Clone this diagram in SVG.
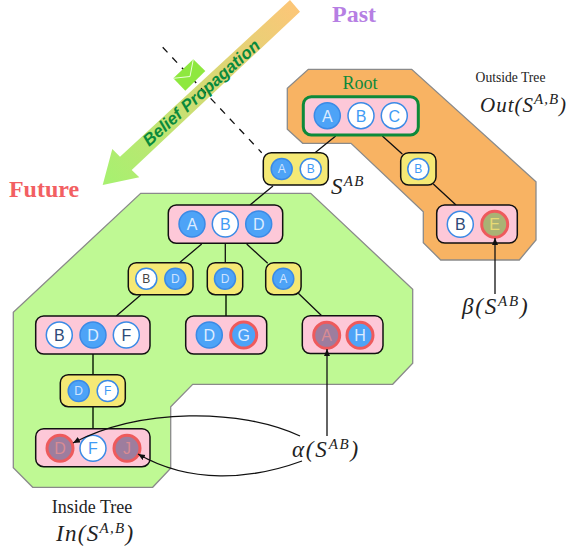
<svg xmlns="http://www.w3.org/2000/svg" width="573" height="550" viewBox="0 0 573 550">
<style>
.region{stroke:#8a8a8a;stroke-width:1.3}
.pink{fill:#fdc8d8;stroke:#111;stroke-width:1.5}
.yellow{fill:#f5e975;stroke:#111;stroke-width:1.5}
.edge{stroke:#111;stroke-width:1.3;fill:none}
.dark{stroke:#3c5a2c;stroke-width:2;fill:none}
.blue{fill:#4da3f7;stroke:#3b8ae6;stroke-width:1.5}
.white{fill:#fff;stroke:#3b8ae6;stroke-width:1.5}
.blueR{fill:#4da3f7;stroke:#ee5a5c;stroke-width:3}
.dim{fill:#9d7d9e;stroke:#ee5a5c;stroke-width:3}
.olive{fill:#a9b274;stroke:#ee5a5c;stroke-width:3}
text{font-family:"Liberation Sans",Arial,sans-serif;text-anchor:middle}
.l{font-size:16px;fill:#dcecff}
.s{font-size:12px;fill:#cfe4ff}
.lw{font-size:16px;fill:#3f9bf5}
.sw{font-size:12px;fill:#3f9bf5}
.ld{font-size:16px;fill:#2c4a78}
.sd{font-size:12px;fill:#444}
.ldim{font-size:16px;fill:#d98b93}
.serif{font-family:"Liberation Serif",serif;fill:#222}
.m{font-family:"Liberation Serif",serif;font-style:italic;fill:#222;font-size:23px;text-anchor:start;letter-spacing:1.3px}
.sup{font-size:15px}
</style>
<defs>
<linearGradient id="bp" gradientUnits="userSpaceOnUse" x1="295" y1="5" x2="110" y2="180">
<stop offset="0" stop-color="#fcc678"/><stop offset="1" stop-color="#a8f070"/>
</linearGradient>
<marker id="ah" markerWidth="8" markerHeight="8" refX="7" refY="3" orient="auto" markerUnits="userSpaceOnUse">
<path d="M0,0L7,3L0,6z" fill="#111"/>
</marker>
</defs>

<g id="outside-tree"><polygon class="region" fill="#f8b363" points="308.3,69.3 411.7,69.3 536,181.7 536,240 519.3,260 440.7,260 423.3,242.7 423.3,211.7 351,143.3 302.7,143.3 287.3,129.3 287.3,88.3"/></g>
<g id="inside-tree"><polygon class="region" fill="#bff994" points="140.7,193.3 310.7,193.3 412.7,289.3 412.7,363.3 392.7,384.3 192.7,384.3 170.7,406.7 170.7,468.3 152.7,487.3 32.7,487.3 13.3,467.7 13.3,312.3"/></g>

<g id="propagation-arrow">
<polygon fill="url(#bp)" points="290,0 300,11.7 131.7,170 139.3,177.3 102.7,185 112.3,149 120,156.7"/>
</g>

<g id="tree-connectors">
<path class="edge" stroke-dasharray="7 7" d="M162.7,47.3L261.7,152.7"/>
<path class="edge" d="M335.7,136L315,152.7M382.3,136L402.3,154M433.3,184L456,205M273,186L250,205M201.7,244L180,262.3M225.3,243V262.7M246.7,244L267.7,263.3M298.3,293.3L321.7,315.7M140.7,295L116.3,316"/>
<path class="dark" d="M226,295V316M93,354V375M93,407V429"/>
</g>

<g id="envelope">
<polygon fill="#8ee83f" points="193.3,59.3 205.3,71 185.3,90.7 173.3,78.3"/>
<path d="M173.3,78.3L190,76.5L193.3,59.3" fill="none" stroke="#eaffd8" stroke-width="1"/>
</g>
<text id="bp-label" transform="translate(149 147) rotate(-41.7)" x="0" y="0" style="text-anchor:start;font-weight:bold;font-style:italic;font-size:17px;fill:#0a8a3c">Belief Propagation</text>

<g id="node-root">
<rect x="303.3" y="96.7" width="115" height="38.3" rx="8" fill="#fdc8d8" stroke="#0d8a3a" stroke-width="3"/>
<circle class="blue" cx="327.3" cy="115.7" r="13"/><text class="l" x="327.3" y="121.5">A</text>
<circle class="white" cx="361" cy="115.7" r="13"/><text class="lw" x="361" y="121.5">B</text>
<circle class="white" cx="394.3" cy="115.7" r="13"/><text class="lw" x="394.3" y="121.5">C</text>
</g>
<g id="node-sab">
<rect class="yellow" x="263.3" y="152.7" width="65" height="32.3" rx="8"/>
<circle class="blue" cx="281.7" cy="169" r="10.5"/><text class="s" x="281.7" y="173.3">A</text>
<circle class="white" cx="310.7" cy="169" r="10.5"/><text class="sw" x="310.7" y="173.3">B</text>
</g>
<g id="node-b-right">
<rect class="yellow" x="400.7" y="152.7" width="35.3" height="32.3" rx="8"/>
<circle class="white" cx="418.3" cy="169" r="10.5"/><text class="sw" x="418.3" y="173.3">B</text>
</g>
<g id="node-be">
<rect class="pink" x="436.7" y="205" width="80.6" height="38" rx="8"/>
<circle class="white" cx="460.3" cy="224.3" r="13"/><text class="ld" x="460.3" y="230">B</text>
<circle class="olive" cx="494.7" cy="224.3" r="13"/><text class="l" style="fill:#e6da74" x="494.7" y="230">E</text>
</g>
<g id="node-abd">
<rect class="pink" x="168.3" y="205" width="114.4" height="38.3" rx="8"/>
<circle class="blue" cx="192" cy="224" r="13"/><text class="l" x="192" y="229.8">A</text>
<circle class="white" cx="225.3" cy="224" r="13"/><text class="lw" x="225.3" y="229.8">B</text>
<circle class="blue" cx="258.7" cy="224" r="13"/><text class="l" x="258.7" y="229.8">D</text>
</g>
<g id="node-bd">
<rect class="yellow" x="128.3" y="262.7" width="64.7" height="32" rx="8"/>
<circle class="white" cx="146.3" cy="278.7" r="10.5"/><text class="sd" x="146.3" y="283">B</text>
<circle class="blue" cx="175.3" cy="278.7" r="10.5"/><text class="s" x="175.3" y="283">D</text>
</g>
<g id="node-d">
<rect class="yellow" x="207.3" y="262.7" width="35.4" height="32" rx="8"/>
<circle class="blue" cx="225" cy="278.7" r="10.5"/><text class="s" x="225" y="283">D</text>
</g>
<g id="node-a">
<rect class="yellow" x="265.7" y="262.7" width="35.4" height="32" rx="8"/>
<circle class="blue" cx="283.3" cy="278.7" r="10.5"/><text class="s" x="283.3" y="283">A</text>
</g>
<g id="node-bdf">
<rect class="pink" x="35.7" y="316" width="114.3" height="38" rx="8"/>
<circle class="white" cx="59.3" cy="335" r="13"/><text class="ld" x="59.3" y="340.8">B</text>
<circle class="blue" cx="93" cy="335" r="13"/><text class="l" x="93" y="340.8">D</text>
<circle class="white" cx="126.3" cy="335" r="13"/><text class="ld" x="126.3" y="340.8">F</text>
</g>
<g id="node-dg">
<rect class="pink" x="185.7" y="316" width="81" height="38" rx="8"/>
<circle class="blue" cx="209.3" cy="335" r="13"/><text class="l" x="209.3" y="340.8">D</text>
<circle class="blueR" cx="243.7" cy="335" r="13"/><text class="l" x="243.7" y="340.8">G</text>
</g>
<g id="node-ah">
<rect class="pink" x="302.3" y="315.7" width="80.7" height="37.8" rx="8"/>
<circle class="dim" cx="326.7" cy="335.3" r="13"/><text class="ldim" x="326.7" y="341">A</text>
<circle class="blueR" cx="360" cy="335.3" r="13"/><text class="l" x="360" y="341">H</text>
</g>
<g id="node-df">
<rect class="yellow" x="60.3" y="374.7" width="65" height="32" rx="8"/>
<circle class="blue" cx="78.7" cy="391" r="10.5"/><text class="s" x="78.7" y="395.3">D</text>
<circle class="white" cx="107.7" cy="391" r="10.5"/><text class="sw" x="107.7" y="395.3">F</text>
</g>
<g id="node-dfj">
<rect class="pink" x="35.7" y="428.7" width="114.3" height="38" rx="8"/>
<circle class="dim" cx="60" cy="448.3" r="13"/><text class="ldim" x="60" y="454">D</text>
<circle class="white" cx="93" cy="448.3" r="13"/><text class="lw" x="93" y="454">F</text>
<circle class="dim" cx="127" cy="448.3" r="13"/><text class="ldim" x="127" y="454">J</text>
</g>

<g id="annotation-connectors">
<path class="edge" marker-end="url(#ah)" d="M495,294V238"/>
<path class="edge" marker-end="url(#ah)" d="M327,436V349"/>
<path class="edge" marker-end="url(#ah)" d="M300,436C240,408 140,408 73,443"/>
<path class="edge" marker-end="url(#ah)" d="M302,461C250,480 190,484 138,454"/>
</g>

<g id="labels">
<text class="serif" x="354" y="22" style="font-size:24px;font-weight:bold;fill:#b67fe3">Past</text>
<text class="serif" x="44" y="197" style="font-size:24px;font-weight:bold;fill:#f25f62">Future</text>
<text class="serif" x="360" y="89" style="font-size:18px;fill:#0d8a3a">Root</text>
<text class="serif" x="510.5" y="82" style="font-size:13.6px">Outside Tree</text>
<text class="m" style="font-size:21px;letter-spacing:1px" x="480" y="112">Out(S<tspan class="sup" dy="-8">A,B</tspan><tspan dy="8">)</tspan></text>
<text class="m" x="331" y="194">S<tspan class="sup" dy="-8">AB</tspan></text>
<text class="m" style="letter-spacing:1.8px" x="462" y="314">β(S<tspan class="sup" dy="-8">AB</tspan><tspan dy="8">)</tspan></text>
<text class="m" style="letter-spacing:1.8px" x="292" y="457">α(S<tspan class="sup" dy="-8">AB</tspan><tspan dy="8">)</tspan></text>
<text class="serif" x="92" y="513" style="font-size:18px">Inside Tree</text>
<text class="m" x="56" y="541">In(S<tspan class="sup" dy="-8">A,B</tspan><tspan dy="8">)</tspan></text>
</g>
</svg>
